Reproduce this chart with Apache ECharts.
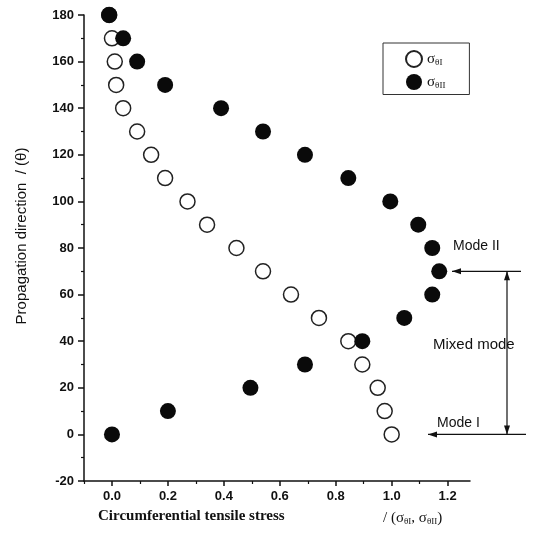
<!DOCTYPE html>
<html>
<head>
<meta charset="utf-8">
<script src="https://cdn.jsdelivr.net/npm/echarts@6/dist/echarts.min.js"></script>
<style>
  html, body { margin: 0; padding: 0; background: #fff; }
  #chart { width: 545px; height: 533px; }
</style>
</head>
<body>
<div id="chart"></div>
<script>
// propagation direction (deg) for every point
const theta = [180, 170, 160, 150, 140, 130, 120, 110, 100, 90, 80, 70, 60, 50, 40, 30, 20, 10, 0]
// sigma_thetaI (open circles)
const sigmaI = [-0.01, 0.0, 0.01, 0.015, 0.04, 0.09, 0.14, 0.19, 0.27, 0.34, 0.445, 0.54, 0.64, 0.74, 0.845, 0.895, 0.95, 0.975, 1.0]
// sigma_thetaII (filled circles)
const sigmaII = [-0.01, 0.04, 0.09, 0.19, 0.39, 0.54, 0.69, 0.845, 0.995, 1.095, 1.145, 1.17, 1.145, 1.045, 0.895, 0.69, 0.495, 0.2, 0.0]
const xLabels = [0.0, 0.2, 0.4, 0.6, 0.8, 1.0, 1.2]
const xMinor = [-0.1, 0.1, 0.3, 0.5, 0.7, 0.9, 1.1]

const chart = echarts.init(document.getElementById('chart'))
const tickFont = { color: '#111', fontSize: 13, fontWeight: 'bold', fontFamily: 'Liberation Sans, Arial' }

chart.setOption({
  animation: false,
  grid: { left: 84, right: 75, top: 15, bottom: 52 },
  legend: {
    orient: 'vertical',
    left: 383,
    top: 43,
    padding: [7, 24, 4, 22],
    itemGap: 6,
    itemWidth: 16,
    itemHeight: 16,
    borderColor: '#333',
    borderWidth: 1,
    data: ['sI', 'sII'],
    formatter: (name) => name === 'sI' ? '{s|σ}{b|θI}' : '{s|σ}{b|θII}',
    textStyle: {
      rich: {
        s: { fontSize: 15, fontFamily: 'Liberation Serif', color: '#111' },
        b: { fontSize: 9, fontFamily: 'Liberation Serif', color: '#111', verticalAlign: 'bottom', padding: [8, 0, 0, 0] }
      }
    }
  },
  xAxis: [
    {
      type: 'value',
      min: -0.1,
      max: 1.28,
      splitLine: { show: false },
      axisLine: { onZero: false, lineStyle: { color: '#111', width: 1.5 } },
      axisTick: { customValues: xLabels, length: 5, lineStyle: { color: '#111', width: 1.5 } },
      axisLabel: { customValues: xLabels, formatter: (v) => v.toFixed(1), margin: 9, ...tickFont }
    },
    {
      type: 'value',
      min: -0.1,
      max: 1.28,
      position: 'bottom',
      splitLine: { show: false },
      axisLine: { show: false, onZero: false },
      axisTick: { customValues: xMinor, length: 3, lineStyle: { color: '#111', width: 1.2 } },
      axisLabel: { show: false }
    }
  ],
  yAxis: {
    type: 'value',
    min: -20,
    max: 180,
    interval: 20,
    splitLine: { show: false },
    axisLine: { show: true, onZero: false, lineStyle: { color: '#111', width: 1.5 } },
    axisTick: { length: 6, lineStyle: { color: '#111', width: 1.5 } },
    minorTick: { show: true, splitNumber: 2, length: 3, lineStyle: { color: '#111', width: 1.2 } },
    axisLabel: { margin: 10, ...tickFont }
  },
  series: [
    {
      name: 'sI',
      type: 'scatter',
      symbol: 'circle',
      symbolSize: 15,
      itemStyle: { color: '#fff', borderColor: '#222', borderWidth: 1.5, opacity: 1 },
      data: theta.map((t, i) => [sigmaI[i], t])
    },
    {
      name: 'sII',
      type: 'scatter',
      symbol: 'circle',
      symbolSize: 16,
      itemStyle: { color: '#0a0a0a', opacity: 1 },
      data: theta.map((t, i) => [sigmaII[i], t])
    }
  ]
})

// annotations on the right side
const y70 = chart.convertToPixel({ yAxisIndex: 0 }, 70)
const y0 = chart.convertToPixel({ yAxisIndex: 0 }, 0)
const ink = '#111'
const arrowLeft = (x, y) => ({ type: 'polygon', shape: { points: [[x, y], [x + 9, y - 3], [x + 9, y + 3]] }, style: { fill: ink } })
const arrowUp = (x, y) => ({ type: 'polygon', shape: { points: [[x, y], [x - 3, y + 9], [x + 3, y + 9]] }, style: { fill: ink } })
const arrowDown = (x, y) => ({ type: 'polygon', shape: { points: [[x, y], [x - 3, y - 9], [x + 3, y - 9]] }, style: { fill: ink } })
const line = (x1, y1, x2, y2) => ({ type: 'line', shape: { x1, y1, x2, y2 }, style: { stroke: ink, lineWidth: 1.2 } })
const label = (text, x, y, size, font) => ({
  type: 'text', x, y,
  style: { text, fontSize: size, fontFamily: font || 'Liberation Sans, Arial', fill: ink, verticalAlign: 'middle' }
})

chart.setOption({
  graphic: [
    line(452, y70, 521, y70), arrowLeft(452, y70),
    line(507, y70, 507, y0), arrowUp(507, y70), arrowDown(507, y0),
    line(428, y0, 526, y0), arrowLeft(428, y0),
    label('Mode II', 453, 246, 14),
    label('Mixed mode', 433, 345, 15),
    label('Mode I', 437, 423, 14),
    {
      type: 'text', x: 22, y: 236, rotation: Math.PI / 2,
      style: { text: 'Propagation direction  / (θ)', fontSize: 15, fontFamily: 'Liberation Sans, Arial', fill: ink, align: 'center', verticalAlign: 'middle' }
    },
    {
      type: 'text', x: 98, y: 516,
      style: { text: 'Circumferential tensile stress', fontSize: 15, fontWeight: 'bold', fontFamily: 'Liberation Serif', fill: ink, verticalAlign: 'middle' }
    },
    {
      type: 'text', x: 383, y: 518,
      style: {
        text: '/ ({s|σ}{b|θI}, {s|σ}{b|θII})',
        fontSize: 15, fontFamily: 'Liberation Serif', fill: ink, verticalAlign: 'middle',
        rich: {
          s: { fontSize: 15, fontFamily: 'Liberation Serif', fill: ink },
          b: { fontSize: 9, fontFamily: 'Liberation Serif', fill: ink, padding: [8, 0, 0, 0] }
        }
      }
    }
  ]
})
</script>
</body>
</html>
